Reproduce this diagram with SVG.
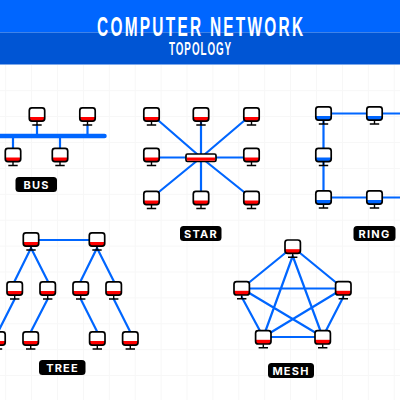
<svg xmlns="http://www.w3.org/2000/svg" width="400" height="400" viewBox="0 0 400 400">
<style>
.g{stroke:#f7f7f7;stroke-width:1;fill:none}
.c{stroke:#0066ff;stroke-width:2.2;fill:none;stroke-linecap:round}
.k{stroke:#000;stroke-width:1.4;fill:none}
.l{fill:#000}
.t{font-family:Inter,"Liberation Sans",Arial,sans-serif;font-weight:700;font-size:11px;fill:#fff;text-anchor:middle;letter-spacing:1.2px}
.h{font-family:"Liberation Sans",Arial,sans-serif;font-weight:700;fill:#fff}
</style>
<defs>
<clipPath id="sc"><rect x="-7.7" y="-6.7" width="15.4" height="13.4" rx="2.6"/></clipPath>
<g id="pc">
<rect x="-7.7" y="-6.7" width="15.4" height="13.4" rx="2.6" fill="#fff"/>
<rect x="-8" y="2.5" width="16" height="5" fill="#f00" clip-path="url(#sc)"/>
<rect x="-7.7" y="-6.7" width="15.4" height="13.4" rx="2.6" fill="none" stroke="#000" stroke-width="1.7"/>
<path d="M0 7V10.5M-4.7 10.5H4.7" class="k"/>
</g>
<g id="pb">
<rect x="-7.7" y="-6.7" width="15.4" height="13.4" rx="2.6" fill="#fff"/>
<rect x="-8" y="2.5" width="16" height="5" fill="#0066ff" clip-path="url(#sc)"/>
<rect x="-7.7" y="-6.7" width="15.4" height="13.4" rx="2.6" fill="none" stroke="#000" stroke-width="1.7"/>
<path d="M0 7V10.5M-4.7 10.5H4.7" class="k"/>
</g>
</defs>
<rect width="400" height="400" fill="#fff"/>
<g id="grid"><path class="g" d="M5.7 65V400M31.6 65V400M57.5 65V400M83.4 65V400M109.3 65V400M135.2 65V400M161.1 65V400M187 65V400M212.9 65V400M238.8 65V400M264.7 65V400M290.6 65V400M316.5 65V400M342.4 65V400M368.3 65V400M394.2 65V400M0 90.7H400M0 116.6H400M0 142.5H400M0 168.4H400M0 194.3H400M0 220.2H400M0 246.1H400M0 272H400M0 297.9H400M0 323.8H400M0 349.7H400M0 375.6H400"/></g>
<g id="header">
<rect width="400" height="32.5" fill="#0066ff"/>
<rect y="32.5" width="400" height="32" fill="#0055d4"/>
<text class="h" transform="translate(97 35.5) scale(.56 1)" font-size="27.5" textLength="368" lengthAdjust="spacing">COMPUTER NETWORK</text>
<text class="h" transform="translate(169 55) scale(.56 1)" font-size="17.5" textLength="111" lengthAdjust="spacing">TOPOLOGY</text>
</g>
<g id="connectors">
<path d="M-5 136H104.5" fill="none" stroke="#0066ff" stroke-width="4.5" stroke-linecap="round"/>
<path class="c" d="M37 125V136M87.5 125V136M13 136V148M60 136V148"/>
<path class="c" d="M151.5 114.5L201 157.5M201 114.5V198M251.5 114.5L201 157.5M151.5 157.5H251.5M151.5 198L201 157.5M251.5 198L201 157.5"/>
<path class="c" d="M323.5 113.5H405M323.5 197.5H405M323.5 113.5V197.5"/>
<path class="c" d="M31 240H97M31 248L14.7 281M31 248L47.7 281M97 248L80.7 281M97 248L113.7 281M14.7 299L-2 332M47.7 299L30.7 332M80.7 299L97.3 332M113.7 299L130.3 332"/>
<path class="c" d="M292.7 247L241.7 288.5M292.7 247L343.3 288.5M241.7 288.5H343.3M292.7 256L263.3 337M292.7 256L322.7 337M241.7 297L263.3 337M343.3 297L322.7 337M241.7 288.5L322.7 337M343.3 288.5L263.3 337M263.3 337H322.7"/>
</g>
<g id="bus-1"><use href="#pc" x="37" y="114.5"/></g>
<g id="bus-2"><use href="#pc" x="87.5" y="114.5"/></g>
<g id="bus-3"><use href="#pc" x="13" y="155"/></g>
<g id="bus-4"><use href="#pc" x="60" y="155"/></g>
<g id="bus-label"><rect x="15.5" y="177" width="41.5" height="15" rx="3.5" class="l"/><text class="t" x="36.5" y="188.5">BUS</text></g>
<g id="star-1"><use href="#pc" x="151.5" y="114.5"/></g>
<g id="star-2"><use href="#pc" x="201" y="114.5"/></g>
<g id="star-3"><use href="#pc" x="251.5" y="114.5"/></g>
<g id="star-4"><use href="#pc" x="151.5" y="155"/></g>
<g id="star-5"><use href="#pc" x="251.5" y="155"/></g>
<g id="star-6"><use href="#pc" x="151.5" y="198"/></g>
<g id="star-7"><use href="#pc" x="201" y="198"/></g>
<g id="star-8"><use href="#pc" x="251.5" y="198"/></g>
<g id="star-hub"><rect x="186" y="154" width="30" height="7.5" rx="1.5" fill="#fff" stroke="#000" stroke-width="1.7"/><rect x="187" y="157.5" width="28" height="3.2" fill="#f00"/></g>
<g id="star-label"><rect x="180" y="226" width="41.5" height="15" rx="3.5" class="l"/><text class="t" x="201" y="237.5">STAR</text></g>
<g id="ring-1"><use href="#pb" x="323.5" y="113.5"/></g>
<g id="ring-2"><use href="#pb" x="374.5" y="113.5"/></g>
<g id="ring-3"><use href="#pb" x="323.5" y="155"/></g>
<g id="ring-4"><use href="#pb" x="323.5" y="197.5"/></g>
<g id="ring-5"><use href="#pb" x="374.5" y="197.5"/></g>
<g id="ring-label"><rect x="353.5" y="226" width="42" height="15" rx="3.5" class="l"/><text class="t" x="374.5" y="237.5">RING</text></g>
<g id="tree-1"><use href="#pc" x="31" y="239.5"/></g>
<g id="tree-2"><use href="#pc" x="97" y="239.5"/></g>
<g id="tree-3"><use href="#pc" x="14.7" y="288.5"/></g>
<g id="tree-4"><use href="#pc" x="47.7" y="288.5"/></g>
<g id="tree-5"><use href="#pc" x="80.7" y="288.5"/></g>
<g id="tree-6"><use href="#pc" x="113.7" y="288.5"/></g>
<g id="tree-7"><use href="#pc" x="-2.5" y="338.5"/></g>
<g id="tree-8"><use href="#pc" x="30.7" y="338.5"/></g>
<g id="tree-9"><use href="#pc" x="97.3" y="338.5"/></g>
<g id="tree-10"><use href="#pc" x="130.3" y="338.5"/></g>
<g id="tree-label"><rect x="39" y="360" width="46.5" height="15" rx="3.5" class="l"/><text class="t" x="62.5" y="371.5">TREE</text></g>
<g id="mesh-1"><use href="#pc" x="292.7" y="246.7"/></g>
<g id="mesh-2"><use href="#pc" x="241.7" y="288.3"/></g>
<g id="mesh-3"><use href="#pc" x="343.3" y="288.3"/></g>
<g id="mesh-4"><use href="#pc" x="263.3" y="337.3"/></g>
<g id="mesh-5"><use href="#pc" x="322.7" y="337.3"/></g>
<g id="mesh-label"><rect x="268" y="363" width="46" height="15" rx="3.5" class="l"/><text class="t" x="291" y="374.5">MESH</text></g>
</svg>
